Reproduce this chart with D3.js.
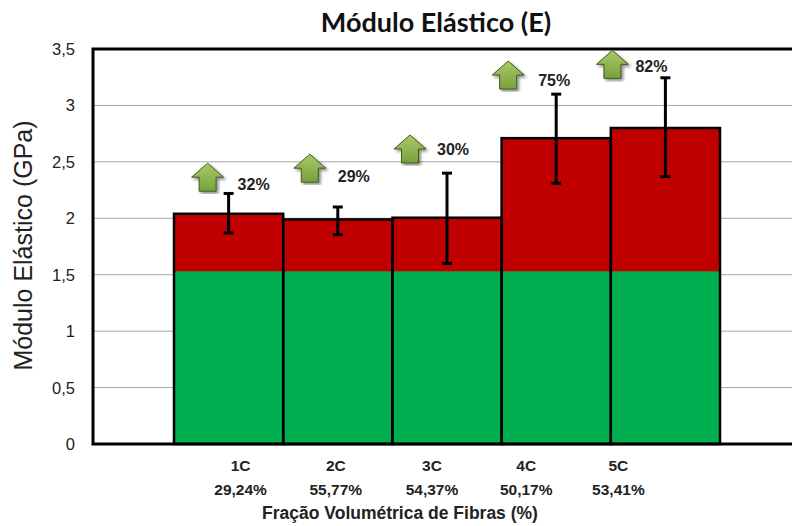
<!DOCTYPE html>
<html>
<head>
<meta charset="utf-8">
<script src="https://cdn.jsdelivr.net/npm/d3@7"></script>
<style>
  body { margin: 0; background: #fff; }
  svg { display: block; }
  .tick-label { font-family: Arial, "Liberation Sans", sans-serif; font-size: 16.5px; fill: #222; }
  .bold { font-family: Arial, "Liberation Sans", sans-serif; font-weight: bold; fill: #222; }
</style>
</head>
<body>
<div id="chart"></div>
<script>
// data
const categories = ['1C', '2C', '3C', '4C', '5C'];
const fractions = ['29,24%', '55,77%', '54,37%', '50,17%', '53,41%'];
const baseValue = 1.53;                       // green part (reference)
const modulus = [2.04, 1.99, 2.005, 2.71, 2.80]; // bar tops
const errLow = [1.87, 1.855, 1.60, 2.31, 2.37];
const errHigh = [2.22, 2.10, 2.40, 3.10, 3.245];
const gains = ['32%', '29%', '30%', '75%', '82%'];
const yTicks = [0, 0.5, 1, 1.5, 2, 2.5, 3, 3.5];

// layout for the arrow annotations (hand placed in the original):
// [dx from bar centre, level in GPa, text dx, text dy]
const arrowPlace = [[-21, 2.24, 30, -1], [-28, 2.32, 28, 0], [-37, 2.49, 27, -8],
                    [-48, 3.145, 30, -3], [-53, 3.24, 23, -6]];
// x label offsets from bar centres
const labelShift = [12, -2, -15, -30, -47];

const width = 792, height = 526;
const plot = { left: 93, top: 49, right: 810, bottom: 444 };

const svg = d3.select('#chart').append('svg').attr('width', width).attr('height', height);

const scaleY = d3.scaleLinear().domain([0, 3.5]).range([plot.bottom, plot.top]);
const scaleX = d3.scaleBand().domain(categories).range([174, 720]).padding(0);
const centre = c => scaleX(c) + scaleX.bandwidth() / 2;

// gridlines
svg.append('g').selectAll('line').data(yTicks.slice(1, -1)).join('line')
  .attr('x1', plot.left).attr('x2', plot.right)
  .attr('y1', d => scaleY(d)).attr('y2', d => scaleY(d))
  .attr('stroke', '#a6a6a6').attr('stroke-width', 1);

// y tick labels
const fmt = d => String(d).replace('.', ',');
svg.append('g').selectAll('text').data(yTicks).join('text')
  .attr('class', 'tick-label')
  .attr('x', 75).attr('y', d => scaleY(d) + 6)
  .attr('text-anchor', 'end').text(fmt);

// bars: red full, green base
const bars = svg.append('g');
bars.selectAll('.red').data(modulus).join('rect').attr('class', 'red')
  .attr('x', (d, i) => scaleX(categories[i])).attr('width', scaleX.bandwidth())
  .attr('y', d => scaleY(d)).attr('height', d => scaleY(0) - scaleY(d))
  .attr('fill', '#c00000');
bars.selectAll('.green').data(modulus).join('rect').attr('class', 'green')
  .attr('x', (d, i) => scaleX(categories[i])).attr('width', scaleX.bandwidth())
  .attr('y', scaleY(baseValue)).attr('height', scaleY(0) - scaleY(baseValue))
  .attr('fill', '#00b050');
bars.selectAll('.outline').data(modulus).join('rect').attr('class', 'outline')
  .attr('x', (d, i) => scaleX(categories[i])).attr('width', scaleX.bandwidth())
  .attr('y', d => scaleY(d)).attr('height', d => scaleY(0) - scaleY(d))
  .attr('fill', 'none').attr('stroke', '#000').attr('stroke-width', 2.5);

// frame
svg.append('path')
  .attr('d', `M${plot.right},${plot.top}H${plot.left}V${plot.bottom}H${plot.right}`)
  .attr('fill', 'none').attr('stroke', '#000').attr('stroke-width', 3);

// error bars
const err = svg.append('g').attr('stroke', '#000');
categories.forEach((c, i) => {
  const cx = centre(c);
  err.append('line').attr('x1', cx).attr('x2', cx)
    .attr('y1', scaleY(errLow[i])).attr('y2', scaleY(errHigh[i])).attr('stroke-width', 3);
  [errLow[i], errHigh[i]].forEach(v => {
    err.append('line').attr('x1', cx - 5).attr('x2', cx + 5)
      .attr('y1', scaleY(v)).attr('y2', scaleY(v)).attr('stroke-width', 3);
  });
});

// arrows
const defs = svg.append('defs');
const grad = defs.append('linearGradient').attr('id', 'arrowGrad')
  .attr('x1', 0).attr('y1', 0).attr('x2', 0).attr('y2', 1);
grad.append('stop').attr('offset', '0%').attr('stop-color', '#a9c96a');
grad.append('stop').attr('offset', '100%').attr('stop-color', '#77a13a');
defs.append('filter').attr('id', 'shadow')
  .append('feDropShadow').attr('dx', 2).attr('dy', 2).attr('stdDeviation', 1.5)
  .attr('flood-color', '#000').attr('flood-opacity', 0.45);

const arrowPath = 'M0,-28 L16,-14 L8.5,-14 L8.5,0 L-8.5,0 L-8.5,-14 L-16,-14 Z';
const ann = svg.append('g');
categories.forEach((c, i) => {
  const [dx, level, tdx, tdy] = arrowPlace[i];
  const ax = centre(c) + dx;
  const ay = scaleY(level);
  ann.append('path').attr('d', arrowPath)
    .attr('transform', `translate(${ax},${ay})`)
    .attr('fill', 'url(#arrowGrad)').attr('stroke', '#3f5a1c').attr('stroke-width', 1)
    .attr('filter', 'url(#shadow)');
  ann.append('text').attr('class', 'bold').attr('font-size', 16)
    .attr('x', ax + tdx).attr('y', ay + tdy).text(gains[i]);
});

// x labels
categories.forEach((c, i) => {
  const cx = centre(c) + labelShift[i];
  svg.append('text').attr('class', 'bold').attr('font-size', 15.5)
    .attr('x', cx).attr('y', 471).attr('text-anchor', 'middle').text(c);
  svg.append('text').attr('class', 'bold').attr('font-size', 15.5)
    .attr('x', cx).attr('y', 495).attr('text-anchor', 'middle').text(fractions[i]);
});

svg.append('text').attr('class', 'bold').attr('font-size', 17.5)
  .attr('x', 400).attr('y', 519).attr('text-anchor', 'middle')
  .text('Fração Volumétrica de Fibras (%)');

// y title
svg.append('text')
  .attr('transform', `translate(32,${(plot.top + plot.bottom) / 2 - 1})rotate(-90)`)
  .attr('text-anchor', 'middle')
  .attr('font-family', 'Arial, "Liberation Sans", sans-serif').attr('font-size', 25).attr('fill', '#222')
  .text('Módulo Elástico (GPa)');

// title
svg.append('text')
  .attr('x', 436).attr('y', 32).attr('text-anchor', 'middle')
  .attr('font-family', 'Lato, "Open Sans", sans-serif').attr('font-weight', 'bold')
  .attr('font-size', 27).attr('fill', '#111')
  .text('Módulo Elástico (E)');
</script>
</body>
</html>
